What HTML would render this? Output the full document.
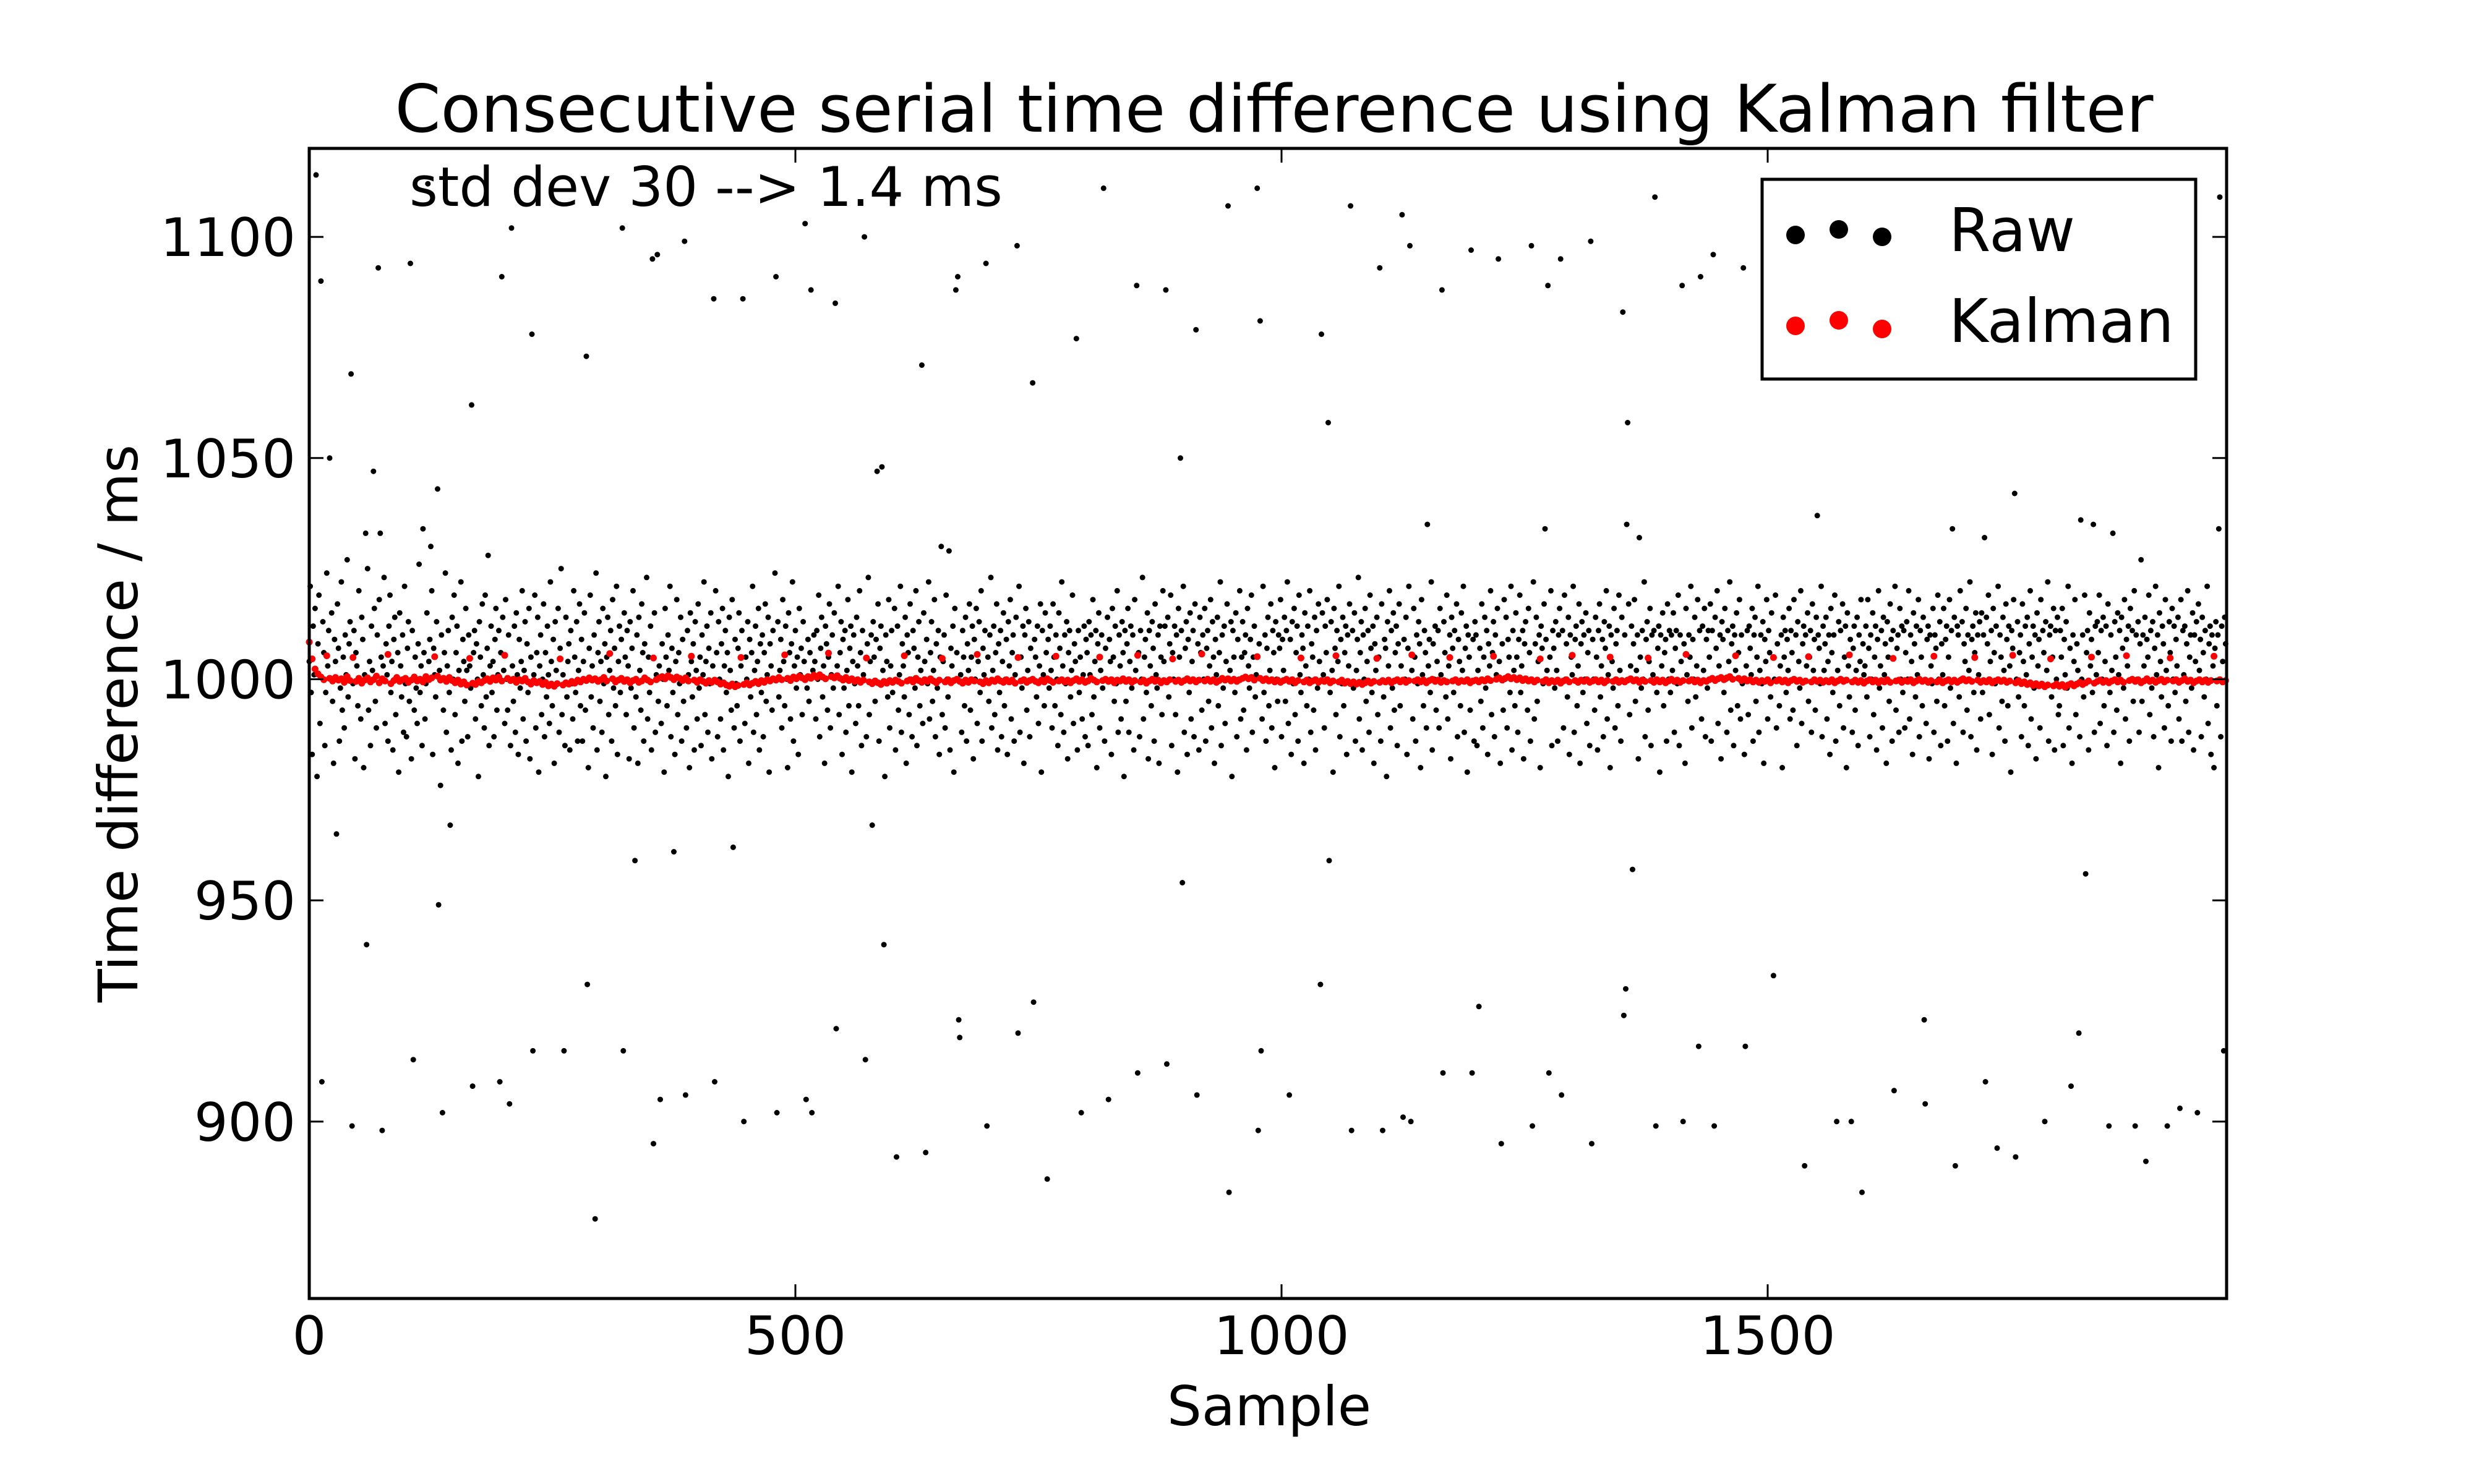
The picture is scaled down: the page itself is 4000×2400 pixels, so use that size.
<!DOCTYPE html>
<html><head><meta charset="utf-8"><title>Kalman filter chart</title>
<style>html,body{margin:0;padding:0;background:#fff;}svg{display:block;}text{font-family:"DejaVu Sans","Liberation Sans",sans-serif;fill:#000;}</style>
</head><body>
<svg id="chart" width="4000" height="2400" viewBox="0 0 4000 2400" xmlns="http://www.w3.org/2000/svg">
<rect x="0" y="0" width="4000" height="2400" fill="#fff"/>
<text x="2060" y="213" font-size="106" text-anchor="middle">Consecutive serial time difference using Kalman filter</text>
<g id="plot"></g>
<rect x="500" y="240" width="3100" height="1860" fill="none" stroke="#000" stroke-width="5"/>
<g id="ticks"></g>
<text x="662" y="333" font-size="88">std dev 30 --&gt; 1.4 ms</text>
<text x="2052" y="2305" font-size="88" text-anchor="middle">Sample</text>
<text transform="translate(222,1170) rotate(-90)" font-size="88" text-anchor="middle">Time difference / ms</text>
<g>
<rect x="2849" y="290" width="701" height="323" fill="#fff" stroke="#000" stroke-width="5"/>
<g>
<circle cx="2903" cy="380" r="15" fill="#000"/>
<circle cx="2973" cy="371" r="15" fill="#000"/>
<circle cx="3043" cy="383" r="15" fill="#000"/>
<text x="3151" y="406" font-size="97">Raw</text>
</g>
<g>
<circle cx="2903" cy="527" r="15" fill="#f00"/>
<circle cx="2973" cy="518" r="15" fill="#f00"/>
<circle cx="3043" cy="532" r="15" fill="#f00"/>
<text x="3151" y="553" font-size="97">Kalman</text>
</g>
</g>
</svg>
<script>
const xTicks = [0, 500, 1000, 1500];
const xTickLabels = ["0", "500", "1000", "1500"];
const yTicks = [900, 950, 1000, 1050, 1100];
const yTickLabels = ["900", "950", "1000", "1050", "1100"];
const xDomain = [0, 1972];
const yDomain = [860, 1120];
const outlierSamples = [7,12,43,71,104,122,167,198,208,229,285,322,353,358,386,416,446,480,510,516,541,571,601,630,665,667,696,728,744,789,817,851,881,912,945,975,978,1041,1048,1071,1101,1124,1132,1165,1195,1223,1257,1274,1287,1318,1351,1356,1384,1412,1431,1444,1475,1505,1511,1965,
21,66,132,584,589,896,1150,1355,1551,1754,1822,1835,1855,1884,1964,1723,1690,58,73,117,125,650,658,1271,1368,
13,28,44,59,75,107,133,137,145,168,196,206,230,262,286,294,323,335,354,361,375,387,417,436,447,481,511,517,542,572,579,591,604,634,668,669,697,729,745,759,794,822,852,882,898,913,946,976,979,1008,1040,1049,1072,1104,1125,1133,1166,1196,1203,1226,1258,1275,1288,1319,1352,1354,1361,1385,1413,1429,1445,1477,1506,1538,1571,1586,1597,1630,1661,1662,1693,1724,1736,1755,1785,1812,1820,1827,1851,1878,1889,1911,1924,1942,1969];
const outlierValues = [1114,1090,1069,1093,1094,1112,1062,1091,1102,1078,1073,1102,1095,1096,1099,1086,1086,1091,1103,1088,1085,1100,1109,1071,1088,1091,1094,1098,1067,1077,1111,1089,1088,1079,1107,1111,1081,1078,1058,1107,1093,1105,1098,1088,1097,1095,1098,1089,1095,1099,1083,1058,1109,1089,1091,1096,1093,1107,1085,1109,
1050,1047,1043,1047,1048,1050,1035,1035,1037,1042,1036,1035,1033,1027,1034,1032,1034,1033,1033,1034,1030,1030,1029,1034,1032,
909,965,899,940,898,914,949,902,967,908,909,904,916,916,931,878,916,959,895,905,961,906,909,962,900,902,905,902,921,914,967,940,892,893,923,919,899,920,927,887,902,905,911,913,954,906,884,898,916,906,931,959,898,898,901,900,911,911,926,895,899,911,906,895,924,930,957,899,900,917,899,917,933,890,900,900,884,907,923,904,890,909,894,892,900,908,920,956,899,899,891,899,903,902,916];
const rawBase = [
1004,1021,997,983,1012,1001,1016,994,978,1008,1019,990,1002,999,1013,1006,985,997,1024,1003,1011,988,1000,1015,995,981,1009,1004,992,1017,1007,986,998,1022,993,1005,989,1010,1001,1027,
996,1008,1013,987,1002,999,1011,982,1006,1003,994,1020,1000,991,1014,1009,980,1001,996,1007,1025,993,1004,985,1012,1002,998,1016,995,989,1010,1000,1018,977,1005,994,1003,1023,990,1008,
1001,986,1012,1019,997,1004,984,1009,1014,992,1000,1006,979,1015,1003,996,1010,988,1021,999,987,1007,1013,995,1002,982,1011,1017,993,1005,998,990,1008,1026,997,1003,985,1012,1006,991,
999,1015,988,1004,1009,994,1020,983,1007,1001,996,1013,989,1018,1002,976,1010,1005,993,1006,1024,988,1003,1011,997,1008,984,1014,1000,1019,992,1006,1012,981,1002,999,1022,986,1009,1004,
995,1016,1002,987,1010,1003,998,1021,982,1006,1011,991,1008,1000,978,1013,1005,994,1017,1001,989,1019,996,1007,1028,985,1003,1012,997,1004,987,1009,1016,993,1001,1011,980,1006,996,1014,
1002,990,1018,1000,993,1010,1023,985,1007,1003,995,1012,988,1015,1001,983,1009,998,1004,1020,991,1002,1013,986,1008,997,1016,982,1005,1011,995,1001,1019,989,1006,1014,979,1003,1010,992,
1000,1017,987,1006,996,1012,1001,990,1022,1004,994,1009,981,1013,1002,999,1016,988,1007,1025,992,1001,1010,985,1014,996,1004,1008,984,1011,999,991,1020,1005,997,1013,986,1002,1017,994,
1009,986,1004,1015,993,1001,1012,980,1007,1019,996,1003,989,1010,1000,1024,984,1006,1013,995,1004,988,1016,999,1008,978,1005,1014,992,1002,1011,986,1018,998,1007,994,1021,983,1004,1012,
997,1009,1001,987,1015,1005,992,1011,1003,982,1013,998,1007,1020,989,1004,996,1010,981,1014,1002,993,1017,1006,986,1008,1000,1023,991,1005,997,1012,984,1009,1003,1015,988,1001,1011,995,
1003,1013,990,1008,1000,979,1016,1005,994,1010,1002,1021,987,1007,997,1012,983,1004,1018,992,1006,999,1014,986,1009,995,1003,1019,989,1011,1001,980,1015,1004,996,1008,984,1013,1002,991,
1017,998,1005,985,1010,1001,1022,992,1004,1012,988,1007,999,1015,982,1003,1009,995,1020,1006,987,1013,1000,991,1008,1016,984,1003,1011,997,1006,978,1014,1002,993,1018,1005,989,1009,999,
994,1007,1015,986,1003,1011,998,1019,990,1005,1000,1013,981,1009,996,1006,1021,988,1002,1012,992,1004,1016,984,1008,997,1010,987,1006,1017,995,1001,1014,979,1008,1003,993,1011,1000,1024,
985,1006,1013,996,1002,1009,989,1018,1004,994,1012,1000,980,1015,1006,991,1008,1022,986,1003,1011,998,1005,983,1016,1001,1007,992,1013,1004,988,1020,998,1009,995,1006,1014,984,1002,1010,
1004,991,1011,1000,1019,987,1007,1014,996,1003,981,1012,1008,993,1005,1017,989,1001,1010,998,1015,985,1007,1003,1021,992,1006,1013,983,1009,998,1011,988,1002,1018,994,1007,1012,979,1004,
1010,999,990,1014,1003,994,1020,1006,985,1011,1001,997,1016,987,1008,1023,992,1004,1010,982,1013,1005,995,1009,1000,1017,986,1007,1012,991,1002,1015,978,1010,1004,996,1018,989,1003,1011,
997,1009,1016,984,1005,1012,993,1001,1021,988,1008,1003,996,1014,981,1010,1006,992,1017,1000,987,1011,1007,998,1020,985,1005,1013,994,1002,1010,990,1015,1004,980,1009,999,1022,991,1006,
1013,995,1002,1018,987,1008,998,1011,983,1005,1015,992,1004,1010,989,1019,1000,996,1013,984,1007,1003,1012,979,1016,998,1006,1009,991,1021,1001,988,1011,1005,994,1014,986,1008,1002,1017,
993,1005,1012,982,1009,1000,1016,990,1004,1013,997,1020,986,1007,1001,1011,980,1014,1005,995,1010,1023,989,1002,1012,992,1006,1017,984,1008,997,1011,987,1004,1015,994,1000,1009,983,1013,
1003,1018,991,1006,1010,986,1001,1014,996,1008,1021,988,1005,998,1012,981,1010,1016,993,1002,1013,987,1007,1000,1019,984,1009,1005,996,1012,990,1003,1017,979,1011,1001,994,1015,1006,986,
1009,998,1012,1002,989,1017,1005,994,1010,1000,985,1015,1007,992,1022,1003,988,1010,999,1013,982,1006,1011,996,1002,1019,990,1008,1004,1014,984,1011,997,1005,1016,991,1001,1012,987,1009,
1006,985,1013,1001,1010,992,1018,996,1004,1011,980,1008,1015,989,1002,1010,998,1021,986,1007,1000,1014,993,1009,1004,983,1016,1005,995,1012,999,1020,988,1010,1003,991,1013,1006,978,1011,
995,1008,1016,988,1004,1012,998,1010,984,1018,1002,993,1014,1006,987,1011,1000,1023,991,1005,1009,997,1015,982,1011,1003,994,1013,1007,986,1017,1001,998,1010,981,1012,1005,992,1020,1004,
1012,990,1002,1014,996,1008,1019,985,1006,1000,1012,992,1010,979,1016,1005,994,1011,1003,1021,988,1007,1013,983,1009,997,1015,991,1004,1011,987,1017,1001,996,1008,984,1014,1006,993,1010,
1000,1016,986,1007,1011,995,1003,1018,989,1013,1005,981,1009,1001,1014,994,1006,1022,985,1010,998,1012,990,1004,1017,993,1008,1002,1013,978,1011,1005,997,1015,987,1009,1000,1020,991,1005,
1013,993,1006,1010,984,1016,1003,998,1009,1019,988,1005,1012,996,1001,1015,982,1008,1004,1012,991,1021,997,1010,986,1007,1014,994,1002,1017,989,1011,1006,980,1013,1000,995,1010,1007,1018,
987,1009,1002,1014,995,1011,1022,990,1004,1009,983,1013,999,1016,992,1006,1012,986,1019,1001,997,1010,1007,981,1015,1003,994,1012,1000,1020,988,1008,1005,993,1014,984,1011,998,1017,1004,
1010,996,1015,1001,989,1012,1006,1018,985,1008,997,1013,1002,979,1016,1007,992,1011,1004,1021,987,1009,999,1014,994,1006,1012,983,1010,1003,1017,990,1005,1011,998,1015,986,1002,1009,1023,
991,1006,1013,984,1010,1000,1016,995,1004,1011,988,1019,1007,997,1012,981,1008,1002,1014,992,1005,1012,986,1017,1001,996,1009,1007,978,1013,1003,1020,989,1011,998,1015,993,1006,1012,985,
1008,1017,994,1003,1011,987,1009,1000,1014,983,1007,1021,996,1010,1002,991,1016,1005,986,1010,999,1013,1008,980,1018,1001,994,1011,1006,989,1015,1003,1009,997,1022,984,1008,1000,1012,993,
1004,1011,989,1016,1001,1008,985,1013,1006,996,1019,991,1003,1010,982,1014,1007,997,1011,1000,1017,987,1009,1004,994,1015,1002,1021,988,1007,1012,979,1010,1005,993,1016,999,1009,986,1013,
1010,985,1002,1012,1007,995,1017,989,1005,1014,998,1011,983,1008,1003,1020,992,1006,1013,987,1010,1001,1016,996,1004,981,1012,1008,993,1018,1000,1014,989,1009,1005,997,1021,984,1011,1002,
994,1015,1005,988,1009,1019,997,1003,1011,982,1008,1013,1000,993,1016,1006,986,1010,1001,1022,991,1008,1014,995,1004,1010,980,1012,1007,999,1017,987,1009,1002,1013,992,1005,1020,985,1011,
1007,998,1013,1002,986,1010,1016,992,1004,1011,989,1019,1000,1008,996,1014,983,1010,1005,1001,1021,988,1009,1012,994,1003,1017,981,1008,1013,997,1010,1000,1015,990,1006,1011,985,1018,1002,
1009,1000,993,1014,1005,984,1011,1017,996,1003,1009,987,1013,1007,1020,991,1001,1012,980,1010,1004,998,1016,989,1008,1011,994,1019,1002,986,1014,1006,999,1010,983,1009,1005,1017,992,1003,
1012,989,1008,1018,995,1002,1010,982,1015,1005,998,1011,1000,1022,987,1009,1013,993,1004,1016,985,1010,1001,1011,990,1020,997,1007,1012,979,1010,1003,1015,994,1006,1009,986,1017,1000,1011,
997,1010,1002,1015,988,1007,1011,999,1019,985,1010,1004,992,1013,1008,981,1016,1001,995,1010,1005,1021,989,1009,1000,1014,996,1003,1018,984,1011,1007,991,1012,1002,1016,987,1009,998,1011,
1005,1017,986,1011,1001,995,1014,1007,1020,990,1003,1010,982,1013,1009,997,1016,1000,988,1011,1004,1022,993,1008,1012,985,1010,1002,1015,994,1006,1018,991,1010,999,1013,983,1009,1003,1011,
992,1012,1007,1001,1016,986,1010,1014,995,1005,1021,988,1002,1010,999,1013,981,1009,1004,1018,991,1011,1006,996,1015,984,1012,1000,1019,989,1008,1013,994,1003,1010,980,1014,1005,1011,997,
1009,1002,1016,991,1011,1006,993,1018,1000,1010,985,1013,1004,998,1020,990,1008,1012,982,1010,1003,1015,995,1005,1011,988,1017,1002,1009,993,1014,984,1010,1007,999,1021,987,1012,1002,1008,
1014,991,1004,1010,983,1016,1006,997,1010,1019,986,1008,1002,1013,994,1011,1000,1017,989,1005,1012,980,1015,1003,996,1009,1022,988,1007,1012,993,1002,1014,985,1010,1004,1018,991,1008,1001,
1003,1012,996,1018,1007,987,1010,1000,1015,992,1005,1012,984,1009,1020,998,1003,1011,989,1014,1001,1008,981,1013,1005,995,1017,1009,986,1011,1002,1021,993,1007,1010,988,1016,1000,1012,997,
1011,989,1006,1013,1000,1020,991,1010,1004,983,1015,1008,996,1012,1001,1018,987,1011,1005,994,1014,1002,1023,990,1009,1012,982,1010,1003,999,1016,988,1010,1007,995,1019,1000,1013,985,1008,
1001,1016,994,1009,1012,986,1005,1018,998,1011,1003,990,1014,1007,981,1012,1010,996,1020,1000,1013,988,1008,1004,1016,993,1010,1002,1022,987,1009,1012,997,1006,1015,984,1010,1001,1013,991,
1015,997,1010,1002,988,1014,1008,1019,992,1004,1011,983,1016,1006,999,1012,1000,1021,989,1010,1005,995,1014,1002,986,1017,1009,994,1012,1003,979,1011,1007,1018,990,1010,1000,1013,996,1006,
1010,987,1017,1004,994,1012,1001,1014,985,1008,1020,991,1005,1012,998,1010,982,1015,1003,1009,989,1018,999,1011,1006,993,1013,1002,1022,986,1010,1012,996,1005,1016,984,1011,1000,1014,992,
994,1011,1005,1016,985,1009,1001,1013,998,1021,989,1007,1012,981,1010,1004,1018,992,1008,1002,1014,987,1012,1000,1010,996,1019,990,1006,1011,984,1015,1003,1009,997,1017,988,1012,1001,1013,
1006,1019,990,1011,1000,1014,994,1004,1012,985,1017,1008,997,1010,1002,1022,988,1013,1005,993,1015,1001,1011,981,1014,1007,998,1018,991,1009,1003,1012,986,1016,1000,1011,995,1020,1005,1010,
1000,1013,988,1008,1017,995,1010,1003,1014,984,1009,1005,1019,992,1011,998,1013,987,1007,1021,1001,1010,980,1015,1004,996,1012,1008,989,1018,1002,1011,994,1013,1006,986,1016,1000,1012,997,
1009,1003,1014,991,1007,1018,986,1011,1001,1012,995,1008,1020,988,1005,1010,998,1015,984,1010,1004,1013,992,1017,1002,1009,987,1014,1006,996,1011,1000,1021,990,1008,1012,983,1010,1003,980,
1007,1013,994,1010,1002,1017,987,1012,1004,981,1014,1008
];
// Kalman output, read at every 3rd sample (kalmanStep)
const kalmanStep = 3;
const kalmanValues = [
1008.4,1004.6,1002.3,1001.2,1000.5,999.9,1005.3,1000.2,999.6,1000.4,999.8,1000.1,999.3,1000.6,999.7,1004.9,999.5,1000.2,999.1,999.8,
1000.3,999.4,999.9,1000.7,999.2,1000.1,999.6,1005.6,999.0,999.7,1000.4,999.5,999.9,1000.2,999.3,999.8,1000.5,999.6,1000.0,999.4,
1000.6,999.9,1000.3,1005.1,1000.7,999.8,1000.2,999.5,1000.4,999.7,999.2,999.8,998.9,999.4,998.7,1004.7,999.1,998.8,999.5,999.2,
999.7,1000.1,999.5,1000.3,999.8,1000.5,999.6,1005.4,1000.2,999.7,1000.0,999.3,999.9,999.6,1000.2,999.4,998.9,999.7,999.2,999.5,
998.8,999.3,998.5,998.9,998.4,999.0,1004.6,998.7,999.2,998.9,999.5,999.1,999.8,999.4,1000.0,999.7,1000.3,999.8,1000.1,999.5,
999.9,1000.4,999.6,1005.8,1000.1,999.4,999.8,1000.2,999.5,999.9,999.2,999.7,1000.0,999.3,999.6,1000.3,999.8,999.4,1004.8,999.9,
1000.3,1000.6,1000.1,1000.8,1000.4,999.9,1000.5,1000.2,999.7,1000.3,999.6,1005.2,999.8,999.3,999.9,999.5,999.1,999.7,999.3,999.8,
999.4,998.9,999.2,998.7,998.4,998.9,998.3,998.6,1004.9,998.8,999.2,998.7,999.1,999.5,999.0,999.7,999.3,999.9,999.6,1000.1,
999.8,1000.4,999.9,1005.5,1000.2,999.7,1000.5,1000.1,1000.7,1000.3,999.9,1000.6,1000.2,1000.9,1000.4,1001.0,1000.5,1000.1,1005.9,1000.6,
1000.3,1000.8,1000.2,999.8,1000.4,999.7,1000.1,999.5,999.9,999.3,999.8,1004.8,999.4,999.0,999.6,999.2,998.8,999.5,999.1,999.7,
999.3,999.8,999.5,999.1,1005.3,999.6,999.9,999.4,1000.2,999.7,999.3,999.9,999.5,1000.1,999.6,999.2,999.8,1004.7,999.4,999.9,
999.2,999.7,1000.0,999.5,999.1,999.8,999.3,999.9,999.6,1005.6,999.4,999.0,999.7,999.2,999.8,999.5,1000.1,999.6,999.3,999.9,
999.4,999.8,999.1,1004.9,999.6,999.9,999.3,999.7,1000.0,999.5,999.2,999.8,999.4,1000.1,999.7,999.3,1005.2,999.6,999.9,999.4,
999.8,999.2,999.7,1000.1,999.5,999.9,999.3,999.6,1000.2,999.8,999.4,1005.0,999.7,1000.0,999.5,999.9,999.2,999.8,999.6,1000.1,
999.5,999.9,999.3,999.7,1005.4,999.4,999.8,999.1,999.6,1000.0,999.5,999.8,999.2,999.7,999.4,999.9,1004.6,999.5,999.8,999.3,
999.7,1000.1,999.6,999.9,999.4,999.8,1005.7,999.6,1000.0,999.5,999.9,999.3,999.7,1000.2,999.8,1000.1,999.6,1000.0,999.5,999.9,
1000.2,1000.5,1000.1,1000.4,999.8,1005.1,1000.2,999.7,1000.1,999.6,999.9,999.4,999.8,999.3,999.7,1000.0,999.5,999.9,999.2,999.7,
1004.8,999.4,999.8,999.2,999.6,999.9,999.3,999.7,999.5,999.9,999.2,999.6,1005.3,999.4,999.8,999.1,999.5,999.0,999.4,998.9,
999.3,998.8,999.2,999.6,999.1,999.5,1004.7,999.3,999.7,999.4,999.8,999.2,999.6,999.9,999.4,999.8,999.3,999.7,1005.5,999.6,
999.9,999.4,999.8,999.2,999.7,1000.0,999.5,999.8,999.3,999.7,999.4,1004.9,999.6,999.9,999.3,999.7,999.5,999.9,999.2,999.6,
999.8,999.4,999.9,999.6,1000.1,999.7,1005.2,1000.0,1000.3,999.8,1000.2,1000.6,1000.1,1000.4,999.9,1000.3,999.7,1000.1,999.6,999.9,
999.4,999.8,1004.6,999.5,999.9,999.2,999.7,999.4,999.8,999.1,999.6,999.9,999.4,1005.4,999.7,999.3,999.8,999.5,999.9,999.3,
999.6,999.9,999.4,999.8,999.2,999.7,1005.0,999.5,999.9,999.3,999.7,999.4,999.8,1000.1,999.6,999.9,999.3,999.8,999.5,1004.8,
999.7,999.3,999.9,999.4,999.8,999.2,999.6,1000.0,999.5,999.8,999.3,999.7,1005.6,999.6,999.9,999.4,999.8,999.2,999.7,999.5,
999.9,1000.2,999.7,1000.1,1000.4,999.9,1000.3,1000.6,1000.0,1005.3,1000.2,999.7,1000.1,999.6,999.9,999.4,999.8,999.3,999.7,999.5,
999.9,999.2,1004.9,999.6,999.9,999.4,999.8,999.2,999.7,1000.0,999.5,999.8,999.3,999.6,1005.1,999.4,999.9,999.5,999.8,999.3,
999.7,999.4,999.9,999.2,999.6,1000.0,999.5,999.8,1005.5,999.4,999.8,999.3,999.7,999.1,999.6,999.9,999.4,999.8,999.2,999.7,
999.4,999.9,999.3,1004.7,999.6,999.8,999.3,999.7,999.5,999.9,999.2,999.6,1000.0,999.5,999.8,999.3,999.7,1005.2,999.4,999.8,
999.2,999.6,999.9,999.4,999.8,999.3,999.7,1000.1,999.6,999.9,999.5,1004.9,999.8,999.3,999.7,999.4,999.9,999.2,999.6,999.9,
999.5,999.8,999.3,999.6,1005.4,999.2,999.7,999.0,999.4,998.8,999.2,998.6,999.0,998.5,998.9,998.3,998.7,1004.6,998.5,998.9,
998.4,998.8,998.2,998.7,999.0,998.5,998.9,999.3,998.8,999.2,999.6,1005.0,999.1,999.5,999.8,999.3,999.7,999.2,999.6,999.9,
999.4,999.8,999.3,1005.3,999.7,1000.0,999.5,999.9,999.2,999.6,1000.1,999.5,999.8,999.3,999.7,1000.0,999.4,999.8,1004.8,999.6,
999.9,999.3,999.7,1000.1,999.5,999.8,999.2,999.6,999.9,999.4,999.8,999.3,999.7,1005.2,999.6,999.9,999.4,999.7
];

const SVGNS = "http://www.w3.org/2000/svg";
const plotLeft = 500, plotRight = 3600, plotTop = 240, plotBottom = 2100;
function xScale(v) { return plotLeft + (v - xDomain[0]) / (xDomain[1] - xDomain[0]) * (plotRight - plotLeft); }
function yScale(v) { return plotBottom - (v - yDomain[0]) / (yDomain[1] - yDomain[0]) * (plotBottom - plotTop); }

const plot = document.getElementById('plot');
const ticksG = document.getElementById('ticks');

const rawG = document.createElementNS(SVGNS, 'g');


plot.appendChild(rawG);
const outlierSet = new Set(outlierSamples);
for (let i = 0; i < rawBase.length; i++) {
  if (outlierSet.has(i)) continue;
  const c = document.createElementNS(SVGNS, 'circle');
  c.setAttribute('cx', xScale(i).toFixed(1));
  c.setAttribute('cy', yScale(rawBase[i]).toFixed(1));
  c.setAttribute('r', 4.5);
  c.setAttribute('fill', '#000');
  
  
  rawG.appendChild(c);
}
for (let i = 0; i < outlierSamples.length; i++) {
  const c = document.createElementNS(SVGNS, 'circle');
  c.setAttribute('cx', xScale(outlierSamples[i]).toFixed(1));
  c.setAttribute('cy', yScale(outlierValues[i]).toFixed(1));
  c.setAttribute('r', 4.5);
  c.setAttribute('fill', '#000');
  
  
  rawG.appendChild(c);
}
const kG = document.createElementNS(SVGNS, 'g');


plot.appendChild(kG);
for (let i = 0; i < kalmanValues.length; i++) {
  const c = document.createElementNS(SVGNS, 'circle');
  c.setAttribute('cx', xScale(i * kalmanStep).toFixed(1));
  c.setAttribute('cy', yScale(kalmanValues[i]).toFixed(1));
  c.setAttribute('r', 5.5);
  c.setAttribute('fill', '#f00');
  
  
  kG.appendChild(c);
}

for (let i = 0; i < xTicks.length; i++) {
  const x = xScale(xTicks[i]);
  const t1 = document.createElementNS(SVGNS, 'line');
  t1.setAttribute('x1', x); t1.setAttribute('x2', x);
  t1.setAttribute('y1', plotBottom); t1.setAttribute('y2', plotBottom - 23);
  t1.setAttribute('stroke', '#000'); t1.setAttribute('stroke-width', 3);
  
  
  ticksG.appendChild(t1);
  const t2 = document.createElementNS(SVGNS, 'line');
  t2.setAttribute('x1', x); t2.setAttribute('x2', x);
  t2.setAttribute('y1', plotTop); t2.setAttribute('y2', plotTop + 23);
  t2.setAttribute('stroke', '#000'); t2.setAttribute('stroke-width', 3);
  
  
  ticksG.appendChild(t2);
  const lb = document.createElementNS(SVGNS, 'text');
  lb.setAttribute('x', x); lb.setAttribute('y', 2190);
  lb.setAttribute('font-size', 86); lb.setAttribute('text-anchor', 'middle');
  
  
  lb.textContent = xTickLabels[i];
  ticksG.appendChild(lb);
}
for (let i = 0; i < yTicks.length; i++) {
  const y = yScale(yTicks[i]);
  const t1 = document.createElementNS(SVGNS, 'line');
  t1.setAttribute('x1', plotLeft); t1.setAttribute('x2', plotLeft + 23);
  t1.setAttribute('y1', y); t1.setAttribute('y2', y);
  t1.setAttribute('stroke', '#000'); t1.setAttribute('stroke-width', 3);
  
  
  ticksG.appendChild(t1);
  const t2 = document.createElementNS(SVGNS, 'line');
  t2.setAttribute('x1', plotRight); t2.setAttribute('x2', plotRight - 23);
  t2.setAttribute('y1', y); t2.setAttribute('y2', y);
  t2.setAttribute('stroke', '#000'); t2.setAttribute('stroke-width', 3);
  
  
  ticksG.appendChild(t2);
  const lb = document.createElementNS(SVGNS, 'text');
  lb.setAttribute('x', 478); lb.setAttribute('y', y + 31);
  lb.setAttribute('font-size', 86); lb.setAttribute('text-anchor', 'end');
  
  
  lb.textContent = yTickLabels[i];
  ticksG.appendChild(lb);
}
</script>
</body></html>
